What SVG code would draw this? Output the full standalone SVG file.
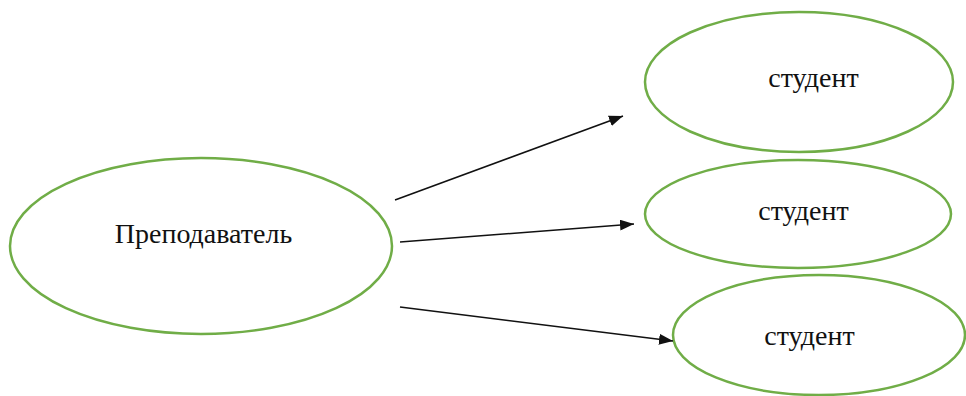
<svg xmlns="http://www.w3.org/2000/svg" width="966" height="396" viewBox="0 0 966 396">
<style>
.node ellipse{fill:#ffffff;stroke:#70ad47;stroke-width:2.5}
.node text{font-family:"Liberation Serif","Times New Roman",serif;font-size:28px;fill:#111111;text-anchor:middle}
.edges line{stroke:#111111;stroke-width:1.6;marker-end:url(#arrow)}
</style>
<defs>
<marker id="arrow" viewBox="0 0 14 11" refX="14" refY="5.5" markerWidth="14" markerHeight="11" markerUnits="userSpaceOnUse" orient="auto">
<path d="M0,0 L14,5.5 L0,11 Z" fill="#111111"/>
</marker>
</defs>
<rect width="966" height="396" fill="#ffffff"/>
<g id="teacher" class="node">
<ellipse cx="201" cy="246" rx="191" ry="88"/>
<text x="203.5" y="243">Преподаватель</text>
</g>
<g id="student1" class="node">
<ellipse cx="799" cy="82" rx="154" ry="70"/>
<text x="813.5" y="87">студент</text>
</g>
<g id="student2" class="node">
<ellipse cx="798" cy="214" rx="153" ry="54"/>
<text x="803.5" y="220">студент</text>
</g>
<g id="student3" class="node">
<ellipse cx="819" cy="335" rx="146" ry="60"/>
<text x="809.5" y="345">студент</text>
</g>
<g id="edges" class="edges">
<line x1="395" y1="200" x2="623" y2="116"/>
<line x1="400" y1="242" x2="634" y2="224"/>
<line x1="400" y1="307" x2="673" y2="341"/>
</g>
</svg>
